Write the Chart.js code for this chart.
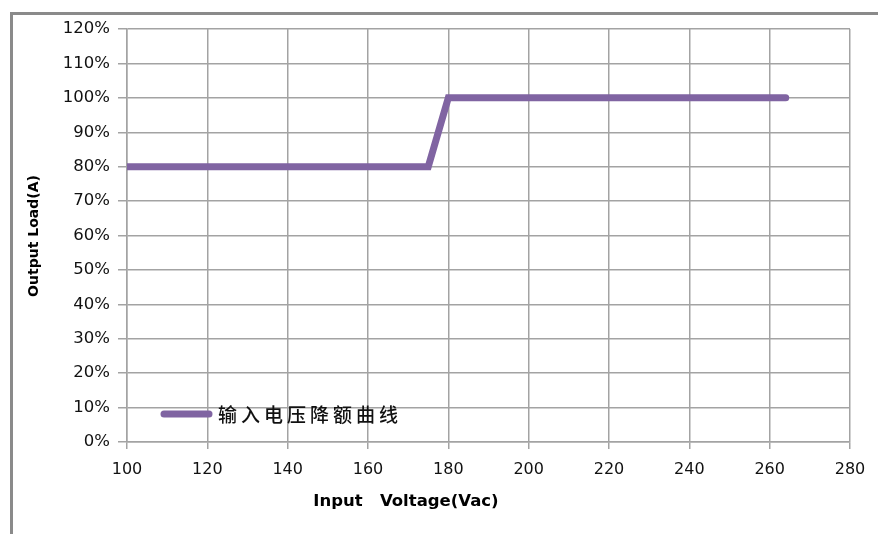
<!DOCTYPE html>
<html>
<head>
<meta charset="utf-8">
<script src="https://cdn.jsdelivr.net/npm/chart.js@4/dist/chart.umd.min.js"></script>
<style>
  html, body { margin: 0; padding: 0; background: #fff; }
  #wrap { position: relative; width: 878px; height: 534px; overflow: hidden; }
  #frame { position: absolute; left: 10px; top: 12px; width: 900px; height: 600px;
           border-left: 3px solid #8a8a8a; border-top: 3px solid #8a8a8a; }
  canvas { position: absolute; left: 0; top: 0; }
</style>
</head>
<body>
<div id="wrap">
  <div id="frame"></div>
  <canvas id="grafico" width="878" height="534"></canvas>
</div>
<script>
// dados
const tensoes = [100, 175, 180, 264];
const cargas = [80, 80, 100, 100];
const nomeSerie = '输入电压降额曲线';
const tituloX = 'Input   Voltage(Vac)';
const tituloY = 'Output Load(A)';

const COR_GRADE = '#a3a3a3';
const COR_LINHA = '#8064a2';

const decoracao = {
    id: 'decoracao',
    afterDraw(chart) {
        const { ctx, chartArea: area } = chart;
        ctx.save();

        // legenda dentro da area
        const ly = area.bottom - 28;
        ctx.strokeStyle = COR_LINHA;
        ctx.lineWidth = 7;
        ctx.lineCap = 'round';
        ctx.beginPath();
        ctx.moveTo(area.left + 37, ly);
        ctx.lineTo(area.left + 82, ly);
        ctx.stroke();
        ctx.fillStyle = '#111';
        ctx.font = '500 19px "Noto Sans CJK SC"';
        ctx.letterSpacing = '4px';
        ctx.textAlign = 'left';
        ctx.textBaseline = 'middle';
        ctx.fillText(nomeSerie, area.left + 91, ly + 1);
        ctx.letterSpacing = '0px';

        // titulos dos eixos
        ctx.fillStyle = '#000';
        ctx.textAlign = 'center';
        ctx.font = 'bold 16.5px "DejaVu Sans"';
        ctx.fillText(tituloX, 406, 502);

        ctx.font = 'bold 14px "DejaVu Sans"';
        ctx.translate(34, 236);
        ctx.rotate(-Math.PI / 2);
        ctx.fillText(tituloY, 0, 0);
        ctx.restore();
    }
};

const ctx = document.getElementById('grafico').getContext('2d');
new Chart(ctx, {
    type: 'line',
    data: {
        datasets: [{
            label: nomeSerie,
            data: tensoes.map((v, i) => ({ x: v, y: cargas[i] })),
            borderColor: COR_LINHA,
            backgroundColor: COR_LINHA,
            borderWidth: 7,
            borderCapStyle: 'round',
            borderJoinStyle: 'miter',
            pointRadius: 0,
            tension: 0
        }]
    },
    options: {
        responsive: false,
        animation: false,
        layout: { padding: { top: 29, right: 28, left: 0, bottom: 0 } },
        plugins: {
            legend: { display: false },
            tooltip: { enabled: false }
        },
        scales: {
            x: {
                type: 'linear',
                min: 100,
                max: 280,
                afterFit: s => { s.height = 92; },
                ticks: {
                    stepSize: 20,
                    color: '#111',
                    font: { family: 'DejaVu Sans', size: 16 },
                    padding: 11,
                    maxRotation: 0
                },
                grid: { color: COR_GRADE, lineWidth: 1.5, tickLength: 7 },
                border: { color: COR_GRADE, width: 1.5 }
            },
            y: {
                min: 0,
                max: 120,
                afterFit: s => { s.width = 127; },
                ticks: {
                    stepSize: 10,
                    color: '#111',
                    font: { family: 'DejaVu Sans', size: 16.5 },
                    padding: 8,
                    callback: v => v + '%'
                },
                grid: { color: COR_GRADE, lineWidth: 1.5, tickLength: 9 },
                border: { color: COR_GRADE, width: 1.5 }
            }
        }
    },
    plugins: [decoracao]
});
</script>
</body>
</html>
